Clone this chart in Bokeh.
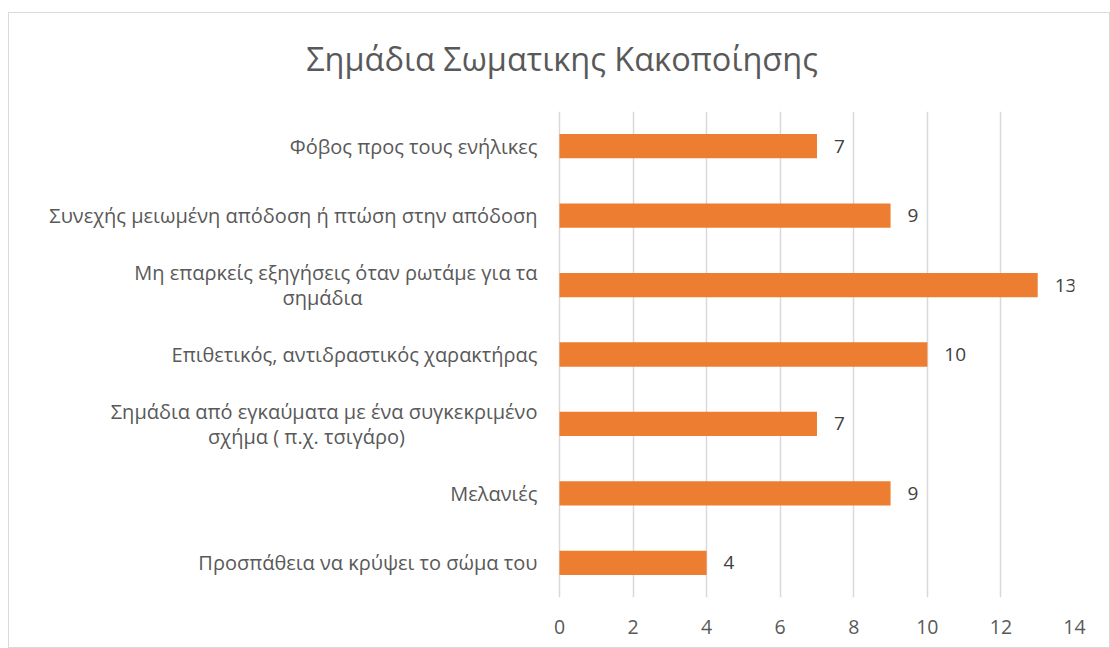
from bokeh.plotting import figure
from bokeh.layouts import column
from bokeh.models import Range1d, FactorRange, ColumnDataSource, FixedTicker
from bokeh.core.properties import value
from bokeh.embed import file_html
from bokeh.resources import INLINE

title = "Σημάδια Σωματικης Κακοποίησης"
categories = [
    "Φόβος προς τους ενήλικες",
    "Συνεχής μειωμένη απόδοση ή πτώση στην απόδοση",
    "Μη επαρκείς εξηγήσεις όταν ρωτάμε για τα σημάδια",
    "Επιθετικός, αντιδραστικός χαρακτήρας",
    "Σημάδια από εγκαύματα με ένα συγκεκριμένο σχήμα ( π.χ. τσιγάρο)",
    "Μελανιές",
    "Προσπάθεια να κρύψει το σώμα του",
]
label_line1 = [
    "Φόβος προς τους ενήλικες",
    "Συνεχής μειωμένη απόδοση ή πτώση στην απόδοση",
    "Μη επαρκείς εξηγήσεις όταν ρωτάμε για τα",
    "Επιθετικός, αντιδραστικός χαρακτήρας",
    "Σημάδια από εγκαύματα με ένα συγκεκριμένο",
    "Μελανιές",
    "Προσπάθεια να κρύψει το σώμα του",
]
label_line2 = ["", "", "σημάδια", "", "σχήμα ( π.χ. τσιγάρο)", "", ""]
values = [7, 9, 13, 10, 7, 9, 4]
x_ticks = [0, 2, 4, 6, 8, 10, 12, 14]

FONT = "Open Sans"
LABEL_SIZE = "20px"
W = 1100
TITLE_H, PLOT_H = 98, 536

# --- title strip ---
tfig = figure(width=W, height=TITLE_H, x_range=Range1d(0, 1), y_range=Range1d(0, 1),
              output_backend="svg", toolbar_location=None,
              x_axis_location=None, y_axis_location=None,
              min_border_left=0, min_border_right=0, min_border_top=0, min_border_bottom=0)
tfig.outline_line_color = None
tfig.grid.grid_line_color = None
tfig.text(x=[0.5], y=[0.5], text=[title], x_offset=20, y_offset=-4,
          text_align="center", text_baseline="middle", text_font=value(FONT),
          text_font_size="32.5px", text_color="#595959")

# --- bar chart ---
p = figure(
    width=W, height=PLOT_H,
    y_range=FactorRange(*reversed(categories)),
    x_range=Range1d(-14.95, 14),
    output_backend="svg", toolbar_location=None,
    min_border_left=0, min_border_right=35, min_border_top=0, min_border_bottom=50,
)
p.outline_line_color = None
p.background_fill_color = "white"
p.border_fill_color = "white"

src = ColumnDataSource(dict(cat=categories, val=values, lab=[str(v) for v in values]))
p.hbar(y="cat", right="val", left=0, height=0.35, source=src,
       fill_color="#ED7D31", line_color=None)
p.text(x="val", y="cat", text="lab", source=src, x_offset=17,
       text_align="left", text_baseline="middle", text_font=value(FONT),
       text_font_size="19px", text_color="#404040")

# category labels
two = [i for i, t in enumerate(label_line2) if t]
one = [i for i, t in enumerate(label_line2) if not t]
p.text(x=[0] * len(one), y=[categories[i] for i in one], text=[label_line1[i] for i in one],
       x_offset=-22, text_align="right", text_baseline="middle",
       text_font=value(FONT), text_font_size=LABEL_SIZE, text_color="#595959")
p.text(x=[0] * len(two), y=[categories[i] for i in two], text=[label_line1[i] for i in two],
       x_offset=-22, y_offset=-12.5, text_align="right", text_baseline="middle",
       text_font=value(FONT), text_font_size=LABEL_SIZE, text_color="#595959")
p.text(x=[0] * len(two), y=[categories[i] for i in two], text=[label_line2[i] for i in two],
       x_offset=[-237, -253], y_offset=12.5, text_align="center", text_baseline="middle",
       text_font=value(FONT), text_font_size=LABEL_SIZE, text_color="#595959")

p.ygrid.grid_line_color = None
p.xgrid.grid_line_color = "#D9D9D9"
p.xgrid.grid_line_width = 1.5
p.yaxis.visible = False
p.xaxis.ticker = FixedTicker(ticks=x_ticks)
p.xaxis.axis_line_color = None
p.xaxis.major_tick_line_color = None
p.xaxis.minor_tick_line_color = None
p.xaxis.major_label_text_font = FONT
p.xaxis.major_label_text_font_size = "19.5px"
p.xaxis.major_label_text_color = "#595959"
p.xaxis.major_label_standoff = 16

layout = column(tfig, p, margin=(12, 0, 0, 8), spacing=0)
layout.styles = {"border": "1px solid #D9D9D9"}

open("out.html", "w").write(file_html(layout, INLINE))
